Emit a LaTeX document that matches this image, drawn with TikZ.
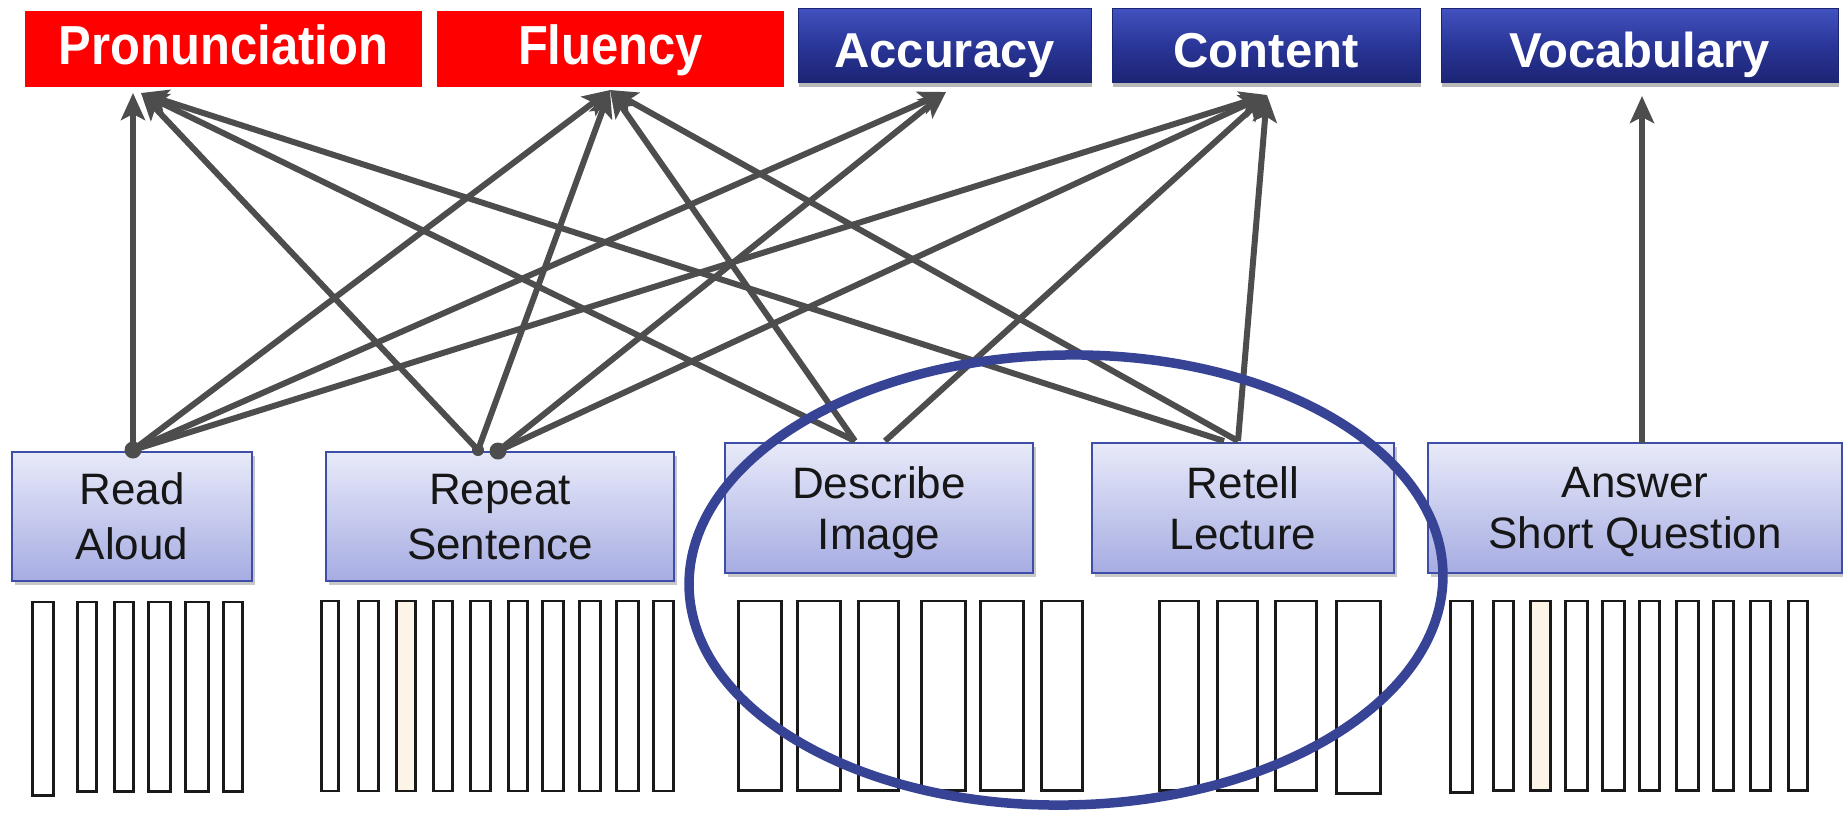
\documentclass[tikz,border=0pt]{standalone}
\usepackage{fontspec}
\usepackage{graphicx}
\setmainfont{Liberation Sans}
\usetikzlibrary{arrows.meta,shadows}

\definecolor{arrowgray}{RGB}{77,77,77}
\definecolor{navyTop}{RGB}{66,82,192}
\definecolor{navyMid}{RGB}{42,54,152}
\definecolor{navyBot}{RGB}{28,36,116}
\definecolor{lavTop}{RGB}{232,234,249}
\definecolor{lavBot}{RGB}{166,172,226}
\definecolor{lavEdge}{RGB}{62,78,168}
\definecolor{ringblue}{RGB}{55,68,150}
\definecolor{barEdge}{RGB}{25,25,25}
\definecolor{cream}{RGB}{251,244,231}
\definecolor{taskText}{RGB}{22,22,22}

\tikzset{
  redbox/.style={fill=red, inner sep=0pt, outer sep=0pt, text=white,
    font=\fontsize{55}{60}\selectfont\bfseries, text height=31.4pt, text depth=0pt},
  bluebox/.style={top color=navyTop, bottom color=navyBot, middle color=navyMid,
    draw=navyBot, line width=1pt, inner sep=0pt, outer sep=0pt, text=white,
    font=\fontsize{49}{55}\selectfont\bfseries, text height=44pt, text depth=0pt,
    drop shadow={shadow xshift=1pt, shadow yshift=-5pt, opacity=0.28, fill=black}},
  taskbox/.style={top color=lavTop, bottom color=lavBot, draw=lavEdge,
    line width=2pt, inner sep=0pt, outer sep=0pt, align=center, text=taskText,
    text depth=0pt,
    drop shadow={shadow xshift=3pt, shadow yshift=-4pt, opacity=0.22, fill=black}},
  conn/.style={draw=arrowgray, line width=6pt,
    -{Stealth[length=27pt,width=24pt,inset=6pt]}},
  bar/.style={draw=barEdge, line width=2.6pt, fill=white},
  ring/.style={draw=ringblue, line width=9.5pt}
}

\begin{document}
\begin{tikzpicture}[x=1pt,y=-1pt]
  % canvas
  \fill[white] (0,0) rectangle (1843,815);
  \path[use as bounding box] (0,0) rectangle (1843,815);

  % score categories
  \node[redbox, minimum width=397pt, minimum height=76pt] (pron) at (223.5,49)
    {\scalebox{0.89}[1]{Pronunciation}};
  \node[redbox, minimum width=347pt, minimum height=76pt] (flu) at (610.5,49)
    {\scalebox{0.89}[1]{Fluency}};
  \node[bluebox, minimum width=293pt, minimum height=74pt] (acc) at (944.5,45) {Accuracy};
  \node[bluebox, minimum width=308pt, minimum height=74pt] (con) at (1266,45) {Content};
  \node[bluebox, minimum width=397pt, minimum height=74pt] (voc) at (1639.5,45) {Vocabulary};

  % task types
  \node[taskbox, minimum width=240pt, minimum height=129pt,
        font=\fontsize{44}{55}\selectfont] (ra) at (132,516.5) {Read\\Aloud};
  \node[taskbox, minimum width=348pt, minimum height=129pt,
        font=\fontsize{44}{55}\selectfont] (rs) at (500,516.5) {Repeat\\Sentence};
  \node[taskbox, minimum width=308pt, minimum height=130pt,
        font=\fontsize{44}{51}\selectfont] (di) at (879,508) {Describe\\Image};
  \node[taskbox, minimum width=302pt, minimum height=130pt,
        font=\fontsize{44}{51}\selectfont] (rl) at (1243,508) {Retell\\Lecture};
  \node[taskbox, minimum width=414pt, minimum height=130pt,
        font=\fontsize{44}{51}\selectfont] (asq) at (1635,508) {Answer\\Short Question};

  % item bars under each task
  \foreach \l/\r/\b in {31/55/797,76/98/793,113/135/793,147/172/793,184/210/793,222/244/793}
    \draw[bar] (\l+1.3,602) rectangle (\r-1.3,\b-1.3);
  \foreach \l/\r in {320/340,357/380,432/454,469/492,507/529,541/565,578/602,615/640,652/675}
    \draw[bar] (\l+1.3,601) rectangle (\r-1.3,791);
  \draw[bar, fill=cream] (396.3,601) rectangle (415.7,791);
  \foreach \l/\r/\b in {737/783/792,796/842/792,857/900/792,920/967/792,979/1025/792,1040/1084/792,
                        1158/1200/792,1216/1259/792,1274/1318/792,1335/1382/795}
    \draw[bar] (\l+1.3,601) rectangle (\r-1.3,\b-1.3);
  \foreach \l/\r/\b in {1449/1474/794,1492/1515/792,1564/1589/792,1601/1626/792,1638/1661/792,
                        1675/1700/792,1712/1735/792,1749/1772/792,1787/1809/792}
    \draw[bar] (\l+1.3,601) rectangle (\r-1.3,\b-1.3);
  \draw[bar, fill=cream] (1530.3,601) rectangle (1550.7,790.7);

  % connector ends
  \coordinate (pronIn) at (141,93);
  \coordinate (fluIn)  at (610,90);
  \coordinate (accIn)  at (946,92);
  \coordinate (conIn)  at (1267,95);
  \coordinate (vocIn)  at (1642,96);
  \coordinate (raOut)  at (133,450);
  \coordinate (rsOutA) at (478,450);
  \coordinate (rsOutB) at (498,451);
  \coordinate (diOutA) at (855,441);
  \coordinate (diOutB) at (885,441);
  \coordinate (rlOutA) at (1224,441);
  \coordinate (rlOutB) at (1238,441);
  \coordinate (asqOut) at (1642,443);

  % which task feeds which score
  \draw[conn] (raOut) -- (raOut |- pronIn);
  \draw[conn] (raOut) -- (fluIn);
  \draw[conn] (raOut) -- (accIn);
  \draw[conn] (raOut) -- (conIn);
  \draw[conn] (rsOutA) -- (pronIn);
  \draw[conn] (rsOutA) -- (fluIn);
  \draw[conn] (rsOutB) -- (accIn);
  \draw[conn] (rsOutB) -- (conIn);
  \draw[conn] (diOutA) -- (pronIn);
  \draw[conn] (diOutA) -- (fluIn);
  \draw[conn] (diOutB) -- (conIn);
  \draw[conn] (rlOutA) -- (pronIn);
  \draw[conn] (rlOutB) -- (fluIn);
  \draw[conn] (rlOutB) -- (conIn);
  \draw[conn] (asqOut) -- (vocIn);

  % junction dots
  \fill[arrowgray] (raOut) circle[radius=8.5];
  \fill[arrowgray] (rsOutA) circle[radius=6];
  \fill[arrowgray] (rsOutB) circle[radius=8.5];

  % highlight ring around the open-response tasks
  \draw[ring, rotate around={1:(1066,580)}] (1066,580) ellipse[x radius=377, y radius=225];
\end{tikzpicture}
\end{document}
